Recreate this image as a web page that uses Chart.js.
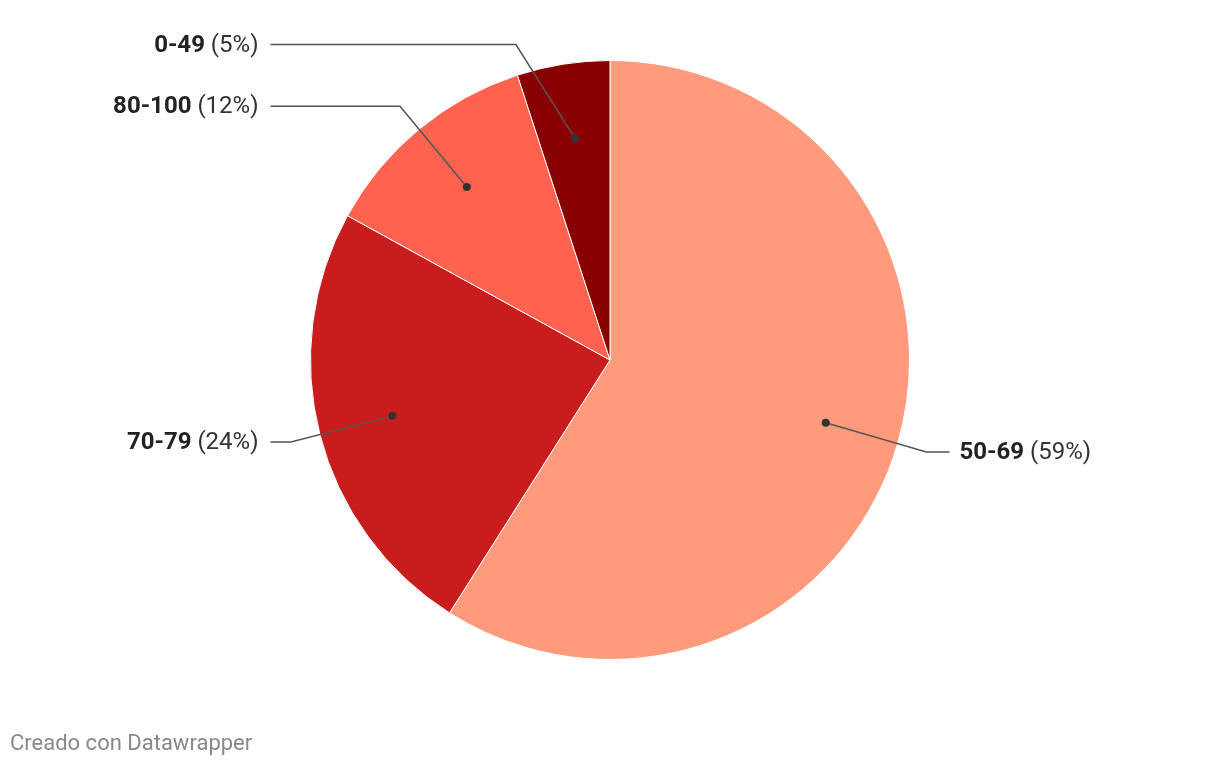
<!doctype html>
<meta charset="utf-8">
<title>Pie</title>
<style>
    html, body {
        margin: 0;
        background: #fff;
    }
    .wrap {
        position: relative;
        width: 1220px;
        height: 766px;
    }
    .credit {
        position: absolute;
        left: 10px;
        top: 730px;
        font-family: Roboto, sans-serif;
        font-size: 22px;
        color: #888;
    }
</style>
<body>
    <div class="wrap">
        <canvas id="pie" width="1220" height="766"></canvas>
        <div class="credit">Creado con Datawrapper</div>
    </div>
    <script src="https://cdn.jsdelivr.net/npm/chart.js@4/dist/chart.umd.min.js"></script>
    <script>
        const labels = ["50-69", "70-79", "80-100", "0-49"];
        const shares = [59, 24, 12, 5];
        const colors = ["#ff9a7c", "#c81c1d", "#ff624f", "#880000"];

        const leaderLabels = {
            id: "leaderLabels",
            afterDraw(chart) {
                const ctx = chart.ctx;
                const meta = chart.getDatasetMeta(0);
                meta.data.forEach((arc, i) => {
                    const { x: cx, y: cy, outerRadius: r, startAngle, endAngle } = arc.getProps(["x", "y", "outerRadius", "startAngle", "endAngle"], true);
                    const mid = (startAngle + endAngle) / 2;
                    const dx = Math.cos(mid), dy = Math.sin(mid);
                    const px = cx + dx * r * 0.75, py = cy + dy * r * 0.75;
                    let ex = cx + dx * r * 1.1, ey = cy + dy * r * 1.1;
                    const minY = cy - r - 16;
                    if (ey < minY) {
                        ex += (dx < 0 ? -1 : 1) * (minY - ey) * 4.3;
                        ey = minY;
                    }
                    const right = dx > 0;
                    const lx = right ? cx + r + 40 : cx - r - 40;

                    ctx.save();
                    ctx.strokeStyle = "#555";
                    ctx.lineWidth = 1.5;
                    ctx.beginPath();
                    ctx.moveTo(px, py);
                    ctx.lineTo(ex, ey);
                    ctx.lineTo(lx, ey);
                    ctx.stroke();
                    ctx.fillStyle = "#333";
                    ctx.beginPath();
                    ctx.arc(px, py, 4, 0, Math.PI * 2);
                    ctx.fill();

                    const bold = labels[i];
                    const rest = " (" + shares[i] + "%)";
                    ctx.textBaseline = "middle";
                    ctx.font = "bold 24px Roboto";
                    const wb = ctx.measureText(bold).width;
                    ctx.font = "24px Roboto";
                    const wr = ctx.measureText(rest).width;
                    const tx = right ? lx + 10 : lx - 12 - wb - wr;
                    ctx.font = "bold 24px Roboto";
                    ctx.fillStyle = "#222";
                    ctx.fillText(bold, tx, ey + 1);
                    ctx.font = "24px Roboto";
                    ctx.fillStyle = "#333";
                    ctx.fillText(rest, tx + wb, ey + 1);
                    ctx.restore();
                });
            }
        };

        new Chart(document.getElementById("pie"), {
            type: "pie",
            data: {
                labels: labels,
                datasets: [{
                    data: shares,
                    backgroundColor: colors,
                    borderColor: "#fff",
                    borderWidth: 1,
                }],
            },
            options: {
                responsive: false,
                animation: false,
                layout: {
                    padding: { top: 60, bottom: 106 },
                },
                plugins: {
                    legend: { display: false },
                    tooltip: { enabled: false },
                },
            },
            plugins: [leaderLabels],
        });
    </script>
</body>
